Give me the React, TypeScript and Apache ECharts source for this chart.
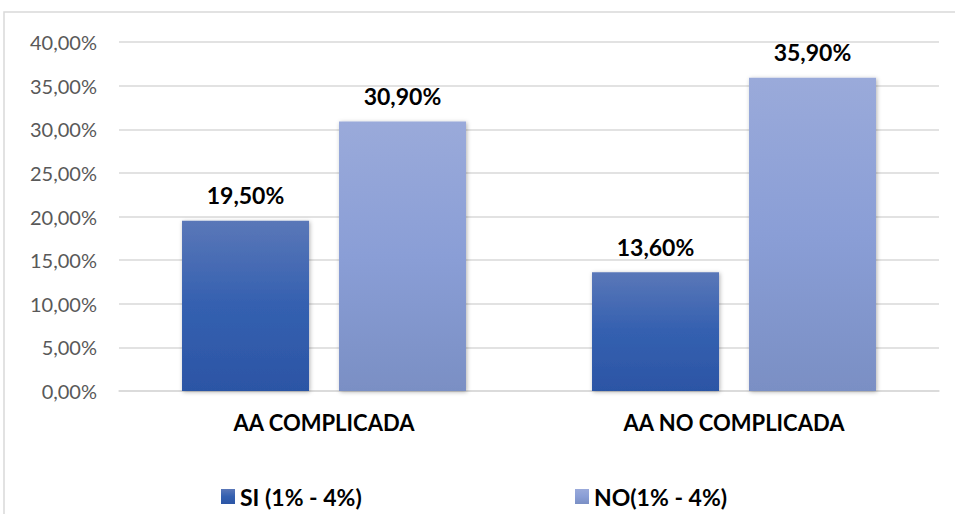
import React, { useEffect, useRef } from "react";
import * as echarts from "echarts";

const categories = ["AA COMPLICADA", "AA NO COMPLICADA"];
const seriesNames = ["SI (1% - 4%)", "NO(1% - 4%)"];
const siValues = [19.5, 13.6];
const noValues = [30.9, 35.9];
const yMin = 0;
const yMax = 40;
const yInterval = 5;

const FONT = "Lato";
const fmt = (v: number) => v.toFixed(2).replace(".", ",") + "%";

export default function App() {
  const ref = useRef<HTMLDivElement>(null);
  useEffect(() => {
    document.body.style.margin = "0";
    if (!ref.current) return;
    const chart = echarts.init(ref.current, null, { renderer: "svg" });
    const siColor = new echarts.graphic.LinearGradient(0, 0, 0, 1, [
      { offset: 0, color: "#5a77b8" },
      { offset: 0.5, color: "#3460b0" },
      { offset: 1, color: "#2c55a5" },
    ]);
    const noColor = new echarts.graphic.LinearGradient(0, 0, 0, 1, [
      { offset: 0, color: "#9aaada" },
      { offset: 0.5, color: "#8a9ed6" },
      { offset: 1, color: "#7a8fc4" },
    ]);
    const labelCfg = {
      show: true,
      position: "top" as const,
      distance: 14,
      formatter: (p: any) => fmt(p.value),
      fontFamily: FONT,
      fontWeight: "bold" as const,
      fontSize: 23,
      color: "#000",
    };
    const itemShadow = {
      shadowBlur: 4,
      shadowColor: "rgba(0,0,0,0.3)",
      shadowOffsetX: 1,
      shadowOffsetY: 1,
    };
    const legendText = {
      fontFamily: FONT,
      fontWeight: "bold",
      fontSize: 23,
      color: "#000",
      padding: [0, 0, 0, 0],
    };
    chart.setOption({
      animation: false,
      textStyle: { fontFamily: FONT },
      graphic: [
        {
          type: "rect",
          shape: { x: 4, y: 12, width: 980, height: 540 },
          style: { fill: "none", stroke: "#d9d9d9", lineWidth: 1.5 },
          silent: true,
        },
      ],
      grid: { left: 119, right: 16, top: 42, bottom: 123 },
      legend: [
        {
          left: 216,
          top: 480,
          itemWidth: 14,
          itemHeight: 15,
          icon: "rect",
          textStyle: legendText,
          data: [seriesNames[0]],
        },
        {
          left: 570,
          top: 480,
          itemWidth: 14,
          itemHeight: 15,
          icon: "rect",
          textStyle: legendText,
          data: [seriesNames[1]],
        },
      ],
      xAxis: {
        type: "category",
        data: categories,
        axisLine: { lineStyle: { color: "#d9d9d9", width: 1.5 } },
        axisTick: { show: false },
        axisLabel: {
          margin: 20,
          fontFamily: FONT,
          fontWeight: "bold",
          fontSize: 22,
          color: "#000",
        },
      },
      yAxis: {
        type: "value",
        min: yMin,
        max: yMax,
        interval: yInterval,
        axisLine: { show: false },
        axisTick: { show: false },
        splitLine: { lineStyle: { color: "#d9d9d9", width: 1.5 } },
        axisLabel: {
          margin: 22,
          formatter: (v: number) => fmt(v),
          fontFamily: FONT,
          fontSize: 20,
          color: "#595959",
        },
      },
      series: [
        {
          name: seriesNames[0],
          type: "bar",
          data: siValues,
          barWidth: 127,
          barGap: "23.6%",
          itemStyle: { color: siColor, ...itemShadow },
          label: labelCfg,
        },
        {
          name: seriesNames[1],
          type: "bar",
          data: noValues,
          barWidth: 127,
          barGap: "23.6%",
          itemStyle: { color: noColor, ...itemShadow },
          label: labelCfg,
        },
      ],
    });
    return () => chart.dispose();
  }, []);
  return <div ref={ref} style={{ width: 955, height: 514 }} />;
}
